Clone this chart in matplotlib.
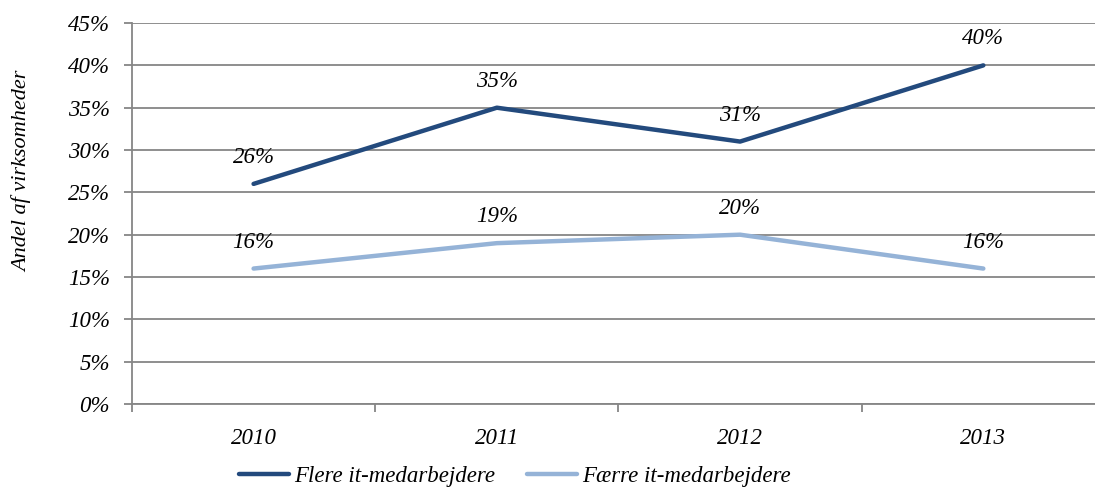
import matplotlib
matplotlib.use("Agg")
import matplotlib.pyplot as plt
import numpy as np

# data
years = ['2010', '2011', '2012', '2013']
flere = [26, 35, 31, 40]
faerre = [16, 19, 20, 16]
yticks = [0, 5, 10, 15, 20, 25, 30, 35, 40, 45]

plt.rcParams['font.family'] = ['Liberation Serif', 'DejaVu Serif']
plt.rcParams['font.style'] = 'italic'
fs = 16.5

fig = plt.figure(figsize=(10.95, 4.87), dpi=100)
ax = fig.add_axes([0.1205, 0.1704, 0.8886, 0.7823])

x = np.arange(len(years))
dark = '#234A7D'
light = '#95B3D7'
grid_c = '#868686'

ax.plot(x, flere, color=dark, lw=3.2, solid_capstyle='round', label='Flere it-medarbejdere', zorder=3)
ax.plot(x, faerre, color=light, lw=3.2, solid_capstyle='round', label='Færre it-medarbejdere', zorder=3)

for xi, v in zip(x, flere):
    ax.annotate(f'{v}%', (xi, v), xytext=(0, 19), textcoords='offset points',
                ha='center', va='center', fontsize=fs, style='italic')
for xi, v in zip(x, faerre):
    ax.annotate(f'{v}%', (xi, v), xytext=(0, 19), textcoords='offset points',
                ha='center', va='center', fontsize=fs, style='italic')

ax.set_xlim(-0.5, 3.5)
ax.set_ylim(0, 45)
ax.set_yticks(yticks)
ax.set_yticklabels([f'{t}%' for t in yticks], fontsize=fs, style='italic')
ax.yaxis.grid(True, color=grid_c, lw=1.3)
ax.set_axisbelow(True)

# category labels centred, ticks between categories
ax.set_xticks(x)
ax.set_xticklabels(years, fontsize=fs, style='italic')
ax.tick_params(axis='x', length=0, pad=17)
ax.set_xticks(np.arange(-0.5, 4, 1), minor=True)
ax.tick_params(axis='x', which='minor', length=6, color=grid_c, width=1.3, direction='out')
ax.tick_params(axis='y', length=6, color=grid_c, width=1.3, pad=10)

for s in ['top', 'right']:
    ax.spines[s].set_visible(False)
ax.spines['left'].set_color(grid_c)
ax.spines['left'].set_linewidth(1.3)
ax.spines['bottom'].set_color(grid_c)
ax.spines['bottom'].set_linewidth(1.3)

fig.text(22 / 1095, 1 - 171 / 487, 'Andel af virksomheder', rotation=90,
         ha='center', va='center', fontsize=16, style='italic')

fig.legend(loc='center', bbox_to_anchor=(0.47, 1 - 476 / 487), ncol=2, frameon=False,
           handlelength=2.2, handletextpad=0.2, columnspacing=1.4,
           prop={'style': 'italic', 'size': fs})

fig.savefig('out.png', dpi=100)
